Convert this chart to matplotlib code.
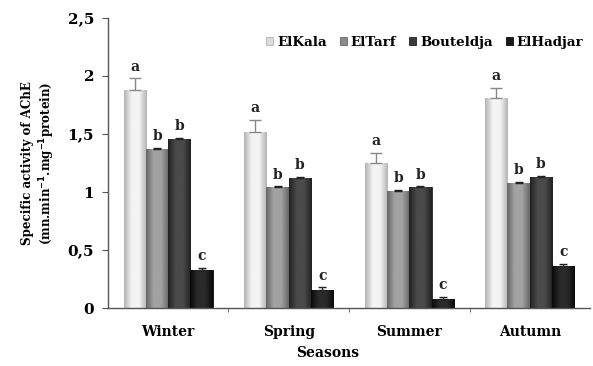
import numpy as np
import matplotlib
matplotlib.use("Agg")
import matplotlib.pyplot as plt
from matplotlib.colors import LinearSegmentedColormap

seasons = ["Winter", "Spring", "Summer", "Autumn"]
sites = ["ElKala", "ElTarf", "Bouteldja", "ElHadjar"]

el_kala = [1.88, 1.52, 1.25, 1.81]
el_tarf = [1.37, 1.04, 1.01, 1.08]
bouteldja = [1.46, 1.12, 1.04, 1.13]
el_hadjar = [0.33, 0.16, 0.08, 0.36]

err_el_kala = [0.10, 0.10, 0.09, 0.09]
err_el_tarf = [0.01, 0.01, 0.01, 0.01]
err_bouteldja = [0.01, 0.01, 0.01, 0.01]
err_el_hadjar = [0.02, 0.02, 0.02, 0.02]

letters_el_kala = ["a", "a", "a", "a"]
letters_el_tarf = ["b", "b", "b", "b"]
letters_bouteldja = ["b", "b", "b", "b"]
letters_el_hadjar = ["c", "c", "c", "c"]

y_ticks = [0, 0.5, 1, 1.5, 2, 2.5]
y_tick_labels = ["0", "0,5", "1", "1,5", "2", "2,5"]

values = [el_kala, el_tarf, bouteldja, el_hadjar]
errors = [err_el_kala, err_el_tarf, err_bouteldja, err_el_hadjar]
letters = [letters_el_kala, letters_el_tarf, letters_bouteldja, letters_el_hadjar]

# (edge shade, centre shade) for the cylinder-like gradient of each series
shades = [("#b4b4b4", "#f4f4f4"), ("#666666", "#a2a2a2"),
          ("#222222", "#4a4a4a"), ("#0a0a0a", "#2a2a2a")]
legend_colors = ["#dcdcdc", "#8a8a8a", "#3a3a3a", "#1a1a1a"]

plt.rcParams["font.family"] = ["DejaVu Serif"]
plt.rcParams["font.weight"] = "bold"

fig = plt.figure(figsize=(5.93, 3.66), dpi=100)
ax = fig.add_axes([0.182, 0.158, 0.813, 0.793])

x = np.arange(len(seasons))
width = 0.185
offsets = (np.arange(len(sites)) - 1.5) * width

for i, site in enumerate(sites):
    edge, centre = shades[i]
    cmap = LinearSegmentedColormap.from_list(
        site, [edge, centre, centre, edge])
    bars = ax.bar(x + offsets[i], values[i], width, color=legend_colors[i],
                  edgecolor=edge, linewidth=0.6, label=site, zorder=2)
    grad = np.linspace(0, 1, 64).reshape(1, -1)
    for bar in bars:
        bx, by = bar.get_x(), bar.get_y()
        bw, bh = bar.get_width(), bar.get_height()
        im = ax.imshow(grad, cmap=cmap, aspect="auto",
                       extent=[bx, bx + bw, by, by + bh], zorder=2.5)
        im.set_clip_path(bar)
    ecol = "#888888" if i == 0 else "#222222"
    ax.errorbar(x + offsets[i], values[i],
                yerr=[np.zeros(len(seasons)), errors[i]], fmt="none",
                ecolor=ecol, elinewidth=1.0, capsize=4 if i == 0 else 3,
                capthick=1.0, zorder=3)
    for j in range(len(seasons)):
        ax.text(x[j] + offsets[i], values[i][j] + errors[i][j] + 0.04,
                letters[i][j], ha="center", va="bottom", fontsize=10,
                fontweight="bold", color="#222222")

ax.set_xlim(-0.5, len(seasons) - 0.5)
ax.set_ylim(0, 2.5)
ax.set_yticks(y_ticks)
ax.set_yticklabels(y_tick_labels, fontsize=11, fontweight="bold")
ax.set_xticks(x)
ax.set_xticklabels(seasons, fontsize=10, fontweight="bold")
ax.tick_params(axis="x", length=0, pad=12)
ax.set_xticks(np.arange(0.5, len(seasons) - 0.5, 1), minor=True)
ax.tick_params(axis="x", which="minor", length=3, color="#555555")
ax.tick_params(axis="y", length=4, color="#555555", pad=6)

for side in ("top", "right"):
    ax.spines[side].set_visible(False)
for side in ("left", "bottom"):
    ax.spines[side].set_color("#555555")
    ax.spines[side].set_linewidth(1.0)

ax.set_xlabel("Seasons", fontsize=10, fontweight="bold", labelpad=6)
ax.xaxis.set_label_coords(0.455, -0.13)
ax.set_ylabel("Specific activity of AChE\n"
              "(mn.min$^{\\mathbf{-1}}$.mg$^{\\mathbf{-1}}$protein)",
              fontsize=8.6, fontweight="bold", linespacing=1.25)
ax.yaxis.set_label_coords(-0.105, 0.5)

leg = ax.legend(loc="center right", bbox_to_anchor=(1.0, 0.917), ncol=4,
                frameon=False, fontsize=9.6, handlelength=0.5,
                handleheight=0.5, handletextpad=0.3, columnspacing=1.0,
                borderaxespad=0.1)
for t in leg.get_texts():
    t.set_fontweight("bold")

fig.savefig("out.png", dpi=100)
